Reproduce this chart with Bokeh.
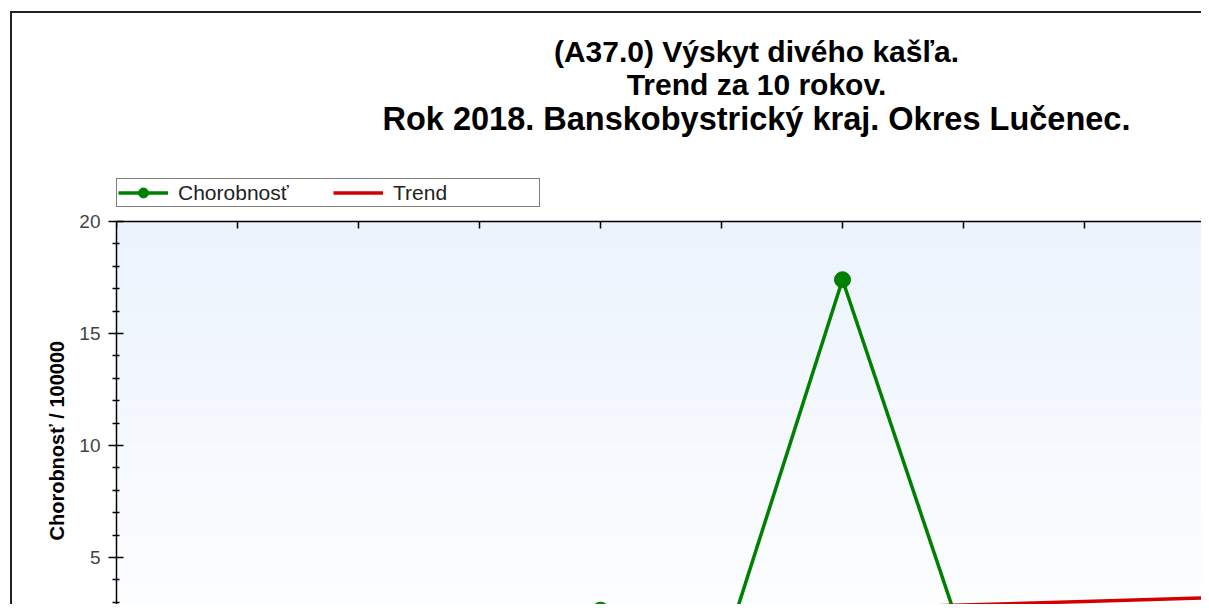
from bokeh.plotting import figure
from bokeh.models import (Range1d, BoxAnnotation, Legend, LegendItem,
                          FixedTicker, Title, Label, Span)
from bokeh.embed import file_html
from bokeh.resources import INLINE

# ---------------- data ----------------
years = [2009, 2010, 2011, 2012, 2013, 2014, 2015, 2016, 2017, 2018]
chorobnost = [0.0, 1.4, 0.0, 0.0, 2.65, 0.5, 17.4, 1.3, 1.4, 0.0]
trend = [1.76, 1.92, 2.08, 2.24, 2.40, 2.56, 2.72, 2.88, 3.04, 3.20]
y_major_ticks = [5, 10, 15, 20]
y_minor_ticks = [3, 4, 6, 7, 8, 9, 11, 12, 13, 14, 16, 17, 18, 19]
title_lines = ["(A37.0) Výskyt divého kašľa.",
               "Trend za 10 rokov.",
               "Rok 2018. Banskobystrický kraj. Okres Lučenec."]
y_label = "Chorobnosť / 100000"
series_names = ["Chorobnosť", "Trend"]

FONT = "Liberation Sans"
GREEN = "#008000"
RED = "#d40000"
Y_TOP = 20          # top of the value axis

W, H = 1201, 604
# the plotting frame covers the whole canvas right of the axis; the chart's
# value area (0..20) sits in its lower part, titles and legend above it
p = figure(width=W, height=H, output_backend="svg", toolbar_location=None,
           x_range=Range1d(2009, 2017.967), y_range=Range1d(2.902, 29.866),
           min_border_left=116, min_border_top=0, min_border_right=0,
           min_border_bottom=0, x_axis_location=None, tools="", title=None)
p.background_fill_alpha = 0
p.border_fill_alpha = 0
p.outline_line_color = None
p.grid.visible = False
# outer frame of the chart picture (page background behind the transparent canvas)
p.styles = {
    "background-color": "white",
    "background-image": "linear-gradient(#222,#222), linear-gradient(#222,#222)",
    "background-size": "2px 100%, 100% 2px",
    "background-position": "10px 11px, 10px 11px",
    "background-repeat": "no-repeat",
}

# soft vertical gradient in the value area
top_rgb = (0xEC, 0xF3, 0xFD)
bot_rgb = (0xFF, 0xFF, 0xFF)
nb = 20
for i in range(nb):
    t = (i + 0.5) / nb
    c = tuple(int(round(bot_rgb[k] + (top_rgb[k] - bot_rgb[k]) * t)) for k in range(3))
    p.add_layout(BoxAnnotation(bottom=i, top=i + 1, fill_color="#%02x%02x%02x" % c,
                               fill_alpha=1, line_color=None, level="underlay"))

# left axis, limited to the value area
ya = p.yaxis[0]
ya.bounds = (0, Y_TOP)
ya.ticker = FixedTicker(ticks=y_major_ticks, minor_ticks=y_minor_ticks)
ya.axis_line_color = "black"
ya.axis_line_width = 1.5
ya.major_tick_line_color = "black"
ya.major_tick_line_width = 1.5
ya.minor_tick_line_color = "black"
ya.minor_tick_line_width = 1.5
ya.major_tick_in = 7
ya.major_tick_out = 8
ya.minor_tick_in = 3
ya.minor_tick_out = 4
ya.major_label_standoff = 8
ya.major_label_text_font = FONT
ya.major_label_text_font_size = "19px"
ya.major_label_text_color = "#444444"

# top border of the value area with inward year ticks
p.add_layout(Span(location=Y_TOP, dimension="width", line_color="black",
                  line_width=1.5))
p.segment(x0=years, y0=[Y_TOP] * len(years), x1=years,
          y1=[Y_TOP - 0.31] * len(years), line_color="black", line_width=1.5)

# series
l1 = p.line(years, chorobnost, line_color=GREEN, line_width=3.5)
s1 = p.scatter(years, chorobnost, size=16, fill_color=GREEN, line_color=GREEN)
l2 = p.line(years, trend, line_color=RED, line_width=3.5)

legend = Legend(items=[LegendItem(label=series_names[0], renderers=[l1, s1]),
                       LegendItem(label=series_names[1], renderers=[l2])],
                orientation="horizontal", location=(0, 397))
legend.border_line_color = "black"
legend.border_line_width = 1.5
legend.background_fill_color = "white"
legend.background_fill_alpha = 1
legend.label_text_font = FONT
legend.label_text_font_size = "21px"
legend.label_text_color = "#222222"
legend.glyph_width = 50
legend.glyph_height = 25
legend.label_standoff = 10
legend.label_width = 145
legend.spacing = 10
legend.padding = 1
legend.margin = 0
p.add_layout(legend, "center")

# chart titles (three centred lines above the legend)
title_x = 2014.289
title_y = [27.59, 26.116, 24.598]
title_sizes = ["30px", "30px", "32.5px"]
for txt, ty, fs in zip(title_lines, title_y, title_sizes):
    p.add_layout(Label(x=title_x, y=ty, text=txt, text_align="center",
                       text_baseline="alphabetic", text_font=FONT,
                       text_font_size=fs, text_font_style="bold",
                       text_color="black"))

# y axis label
p.add_layout(Title(text=y_label, align="left", offset=64, standoff=18,
                   text_font=FONT, text_font_size="20px",
                   text_font_style="bold", text_color="black"), "left")

open("out.html", "w").write(file_html(p, INLINE))
